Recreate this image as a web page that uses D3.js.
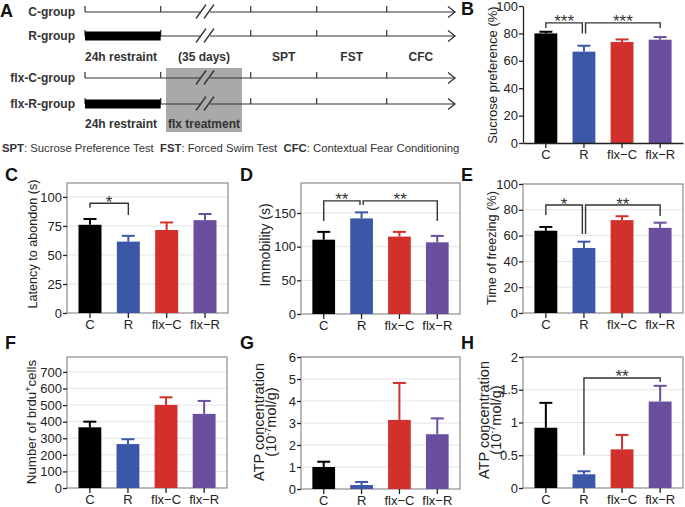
<!DOCTYPE html>
<html><head><meta charset="utf-8">
<script src="https://cdn.jsdelivr.net/npm/d3@7"></script>
<style>body{margin:0;background:#fff} svg{display:block} text{font-family:Arial,"Liberation Sans",sans-serif}</style>
</head><body><svg id="c" width="685" height="507"></svg>
<script>
// ---------- data ----------
const groups = ["C", "R", "flx−C", "flx−R"];
const sucrose = [80, 66.7, 73.7, 75.4];
const sucroseErr = [1.2, 4.3, 1.9, 1.9];
const latency = [76, 61.5, 71.5, 80];
const latencyErr = [5, 5, 6.5, 5.3];
const immobility = [110.4, 142, 115, 106.5];
const immobilityErr = [11.6, 9, 7, 9.5];
const freezing = [63.8, 50.4, 72, 66];
const freezingErr = [2.9, 4.9, 3, 4];
const brdu = [366, 265, 501, 447];
const brduErr = [34, 29, 46, 78];
const atpG = [1.0, 0.18, 3.14, 2.49];
const atpGErr = [0.24, 0.14, 1.68, 0.72];
const atpH = [0.92, 0.21, 0.59, 1.32];
const atpHErr = [0.38, 0.045, 0.22, 0.24];

const ticksB = [0, 20, 40, 60, 80, 100];
const ticksC = [0, 25, 50, 75, 100];
const ticksD = [0, 50, 100, 150];
const ticksE = [0, 20, 40, 60, 80, 100];
const ticksF = [0, 100, 200, 300, 400, 500, 600, 700];
const ticksG = [0, 1, 2, 3, 4, 5, 6];
const ticksH = [0, 0.5, 1, 1.5, 2];

// significance brackets: [fromIdx, toIdx, level, leftEnd, rightEnd, label]
const sigB = [[0, 1, 87.7, 84, 80, "***"], [1, 3, 87.7, 80, 84, "***"]];
const sigC = [[0, 1, 94.5, 90.7, 84.5, "*"]];
const sigD = [[0, 1, 168, 138, 162, "**"], [1, 3, 168, 162, 138, "**"]];
const sigE = [[0, 1, 83.7, 76, 61.2, "*"], [1, 3, 83.7, 61.2, 75.2, "**"]];
const sigH = [[1, 3, 1.68, 0.5, 1.62, "**"]];

// timeline schematic
const rowsA = ["C-group", "R-group", "flx-C-group", "flx-R-group"];
const stagesA = ["24h restraint", "(35 days)", "SPT", "FST", "CFC"];

// ---------- drawing ----------
const svg = d3.select("#c");
const colors = ["#000000", "#3b57a5", "#d3302d", "#6a4f9e"];
const ink = "#333";

function panel(o) {
  const g = svg.append("g");
  const x = d3.scaleBand().domain(groups).range([o.x0, o.x1]).paddingInner(0.4).paddingOuter(0.3);
  const y = d3.scaleLinear().domain([0, o.max]).range([o.yb, o.yt]);
  if (o.framed) {
    g.selectAll(".grid").data(o.ticks.filter(t => t > 0)).join("line")
      .attr("x1", o.x0).attr("x2", o.x1)
      .attr("y1", d => y(d)).attr("y2", d => y(d))
      .attr("stroke", "#e4e4e4").attr("stroke-width", 1);
    g.append("rect").attr("x", o.x0).attr("y", o.yt).attr("width", o.x1 - o.x0).attr("height", o.yb - o.yt)
      .attr("fill", "none").attr("stroke", "#8e8e8e").attr("stroke-width", 1.2);
  }
  g.selectAll(".bar").data(o.values).join("rect")
    .attr("x", (d, i) => x(groups[i])).attr("width", x.bandwidth())
    .attr("y", d => y(d)).attr("height", d => y(0) - y(d))
    .attr("fill", (d, i) => colors[i]);
  const cx = i => x(groups[i]) + x.bandwidth() / 2;
  g.selectAll(".eb").data(o.values).join("line")
    .attr("x1", (d, i) => cx(i)).attr("x2", (d, i) => cx(i))
    .attr("y1", d => y(d)).attr("y2", (d, i) => y(d + o.errs[i]))
    .attr("stroke", (d, i) => colors[i]).attr("stroke-width", 2);
  g.selectAll(".cap").data(o.values).join("line")
    .attr("x1", (d, i) => cx(i) - 6.5).attr("x2", (d, i) => cx(i) + 6.5)
    .attr("y1", (d, i) => y(d + o.errs[i])).attr("y2", (d, i) => y(d + o.errs[i]))
    .attr("stroke", (d, i) => colors[i]).attr("stroke-width", 2);
  const ya = g.append("g").attr("transform", `translate(${o.x0},0)`)
    .call(d3.axisLeft(y).tickValues(o.ticks).tickSize(4).tickSizeOuter(0).tickPadding(1).tickFormat(d3.format("")));
  const xa = g.append("g").attr("transform", `translate(0,${o.yb})`)
    .call(d3.axisBottom(x).tickSize(5).tickSizeOuter(0).tickPadding(2));
  [ya, xa].forEach(a => {
    a.selectAll("text").attr("font-size", 13).attr("fill", "#222").attr("font-family", "Arial, 'Liberation Sans', sans-serif");
    a.selectAll(".tick line").attr("stroke", "#222").attr("stroke-width", 1.3);
    if (o.framed) a.select(".domain").remove();
    else a.select(".domain").attr("stroke", "#222").attr("stroke-width", 1.3);
  });
  (o.sig || []).forEach((s, k) => {
    const [a, b, lvl, le, re, lab] = s;
    const shared = idx => (o.sig || []).some((t, j) => j !== k && (t[0] === idx || t[1] === idx));
    const xl = cx(a) + (shared(a) ? 1.6 : 0);
    const xr = cx(b) - (shared(b) ? 1.6 : 0);
    g.append("path").attr("d", `M${xl},${y(le)}V${y(lvl)}H${xr}V${y(re)}`)
      .attr("fill", "none").attr("stroke", ink).attr("stroke-width", 1.4);
    g.append("text").attr("x", (xl + xr) / 2).attr("y", y(lvl) + 4.5).attr("text-anchor", "middle")
      .attr("font-size", 17).attr("fill", "#333").text(lab);
  });
  const t = g.append("text").attr("transform", `translate(${o.tx},${o.ty}) rotate(-90)`)
    .attr("text-anchor", "middle").attr("font-size", o.fs || 13).attr("fill", "#222");
  o.title(t);
  svg.append("text").attr("x", o.lx).attr("y", o.ly).attr("font-size", 18).attr("font-weight", "bold").attr("fill", "#111").text(o.letter);
}

panel({x0: 523, x1: 683, yt: 6, yb: 143, max: 100, ticks: ticksB, values: sucrose, errs: sucroseErr, framed: false,
  sig: sigB, tx: 497, ty: 75, fs: 13, title: t => t.text("Sucrose preference (%)"), letter: "B", lx: 461, ly: 15});
panel({x0: 67, x1: 228, yt: 183, yb: 313, max: 112, ticks: ticksC, values: latency, errs: latencyErr, framed: true,
  sig: sigC, tx: 36.5, ty: 244, fs: 12.6, title: t => t.text("Latency to abondon (s)"), letter: "C", lx: 5, ly: 181});
panel({x0: 301, x1: 460, yt: 183, yb: 314, max: 194.6, ticks: ticksD, values: immobility, errs: immobilityErr, framed: true,
  sig: sigD, tx: 269.5, ty: 245, fs: 14, title: t => t.text("Immobility (s)"), letter: "D", lx: 240, ly: 181});
panel({x0: 523, x1: 683, yt: 184, yb: 313, max: 100, ticks: ticksE, values: freezing, errs: freezingErr, framed: true,
  sig: sigE, tx: 496, ty: 248, fs: 12.7, title: t => t.text("Time of freezing (%)"), letter: "E", lx: 461, ly: 181});
panel({x0: 67, x1: 227, yt: 357, yb: 488, max: 790, ticks: ticksF, values: brdu, errs: brduErr, framed: true,
  tx: 36, ty: 422, fs: 13.3, title: t => { t.append("tspan").text("Number of brdu");
    t.append("tspan").attr("font-size", 9).attr("dy", -5).text("+");
    t.append("tspan").attr("dy", 5).text("cells"); }, letter: "F", lx: 5, ly: 349});
const atpTitle = (d1, d2) => t => {
  t.append("tspan").attr("x", 0).attr("dy", d1).text("ATP concentration");
  t.append("tspan").attr("x", 0).attr("dy", d2).text("(10");
  t.append("tspan").attr("font-size", 9).attr("dy", -5.5).text("-7");
  t.append("tspan").attr("dy", 5.5).text("mol/g)");
};
panel({x0: 301, x1: 460, yt: 357, yb: 489, max: 6, ticks: ticksG, values: atpG, errs: atpGErr, framed: true,
  tx: 270, ty: 422, fs: 14.5, title: atpTitle(-6.5, 12.5), letter: "G", lx: 240, ly: 349});
panel({x0: 523, x1: 683, yt: 357, yb: 488, max: 2, ticks: ticksH, values: atpH, errs: atpHErr, framed: true,
  sig: sigH, tx: 494.5, ty: 420, fs: 14.5, title: atpTitle(-6, 12), letter: "H", lx: 461, ly: 349});

// ---------- panel A: timeline ----------
const A = svg.append("g");
const rowY = [12, 36, 78, 104];
const xs = [85, 160.7, 250.7, 316.7, 386.7, 455];
A.append("rect").attr("x", 166).attr("y", 68).attr("width", 76).attr("height", 64).attr("fill", "#a9a9a9");
rowsA.forEach((name, i) => {
  const yy = rowY[i];
  A.append("text").attr("x", 75).attr("y", yy + 4).attr("text-anchor", "end").attr("font-size", 12)
    .attr("font-weight", "bold").attr("fill", ink).text(name);
  A.append("line").attr("x1", xs[0]).attr("x2", 201).attr("y1", yy).attr("y2", yy).attr("stroke", ink).attr("stroke-width", 1.2);
  A.append("line").attr("x1", 210).attr("x2", xs[5]).attr("y1", yy).attr("y2", yy).attr("stroke", ink).attr("stroke-width", 1.2);
  A.append("path").attr("d", `M${xs[5] - 7},${yy - 5.5}L${xs[5]},${yy}L${xs[5] - 7},${yy + 5.5}`)
    .attr("fill", "none").attr("stroke", ink).attr("stroke-width", 1.3);
  xs.slice(0, 5).forEach(tx => A.append("line").attr("x1", tx).attr("x2", tx)
    .attr("y1", yy - 6).attr("y2", yy).attr("stroke", ink).attr("stroke-width", 1.2));
  [196, 204].forEach(sx => A.append("line").attr("x1", sx).attr("y1", yy + 6.5).attr("x2", sx + 10).attr("y2", yy - 7.5)
    .attr("stroke", ink).attr("stroke-width", 1.3));
  if (i % 2 === 1) A.append("rect").attr("x", xs[0]).attr("y", yy - 4.5).attr("width", xs[1] - xs[0]).attr("height", 9).attr("fill", "#000");
});
const stageLabel = (txt, cxp, yy) => A.append("text").attr("x", cxp).attr("y", yy).attr("text-anchor", "middle")
  .attr("font-size", 12).attr("font-weight", "bold").attr("fill", ink).text(txt);
stagesA.forEach((s, i) => stageLabel(s, i === 0 ? 121 : i === 1 ? 204 : (xs[i] + xs[i + 1]) / 2, 61));
stageLabel("24h restraint", 121, 128);
stageLabel("flx treatment", 204, 128);
A.append("text").attr("x", 0).attr("y", 17).attr("font-size", 18).attr("font-weight", "bold").attr("fill", "#111").text("A");
const leg = A.append("text").attr("x", 2).attr("y", 152).attr("font-size", 11.3).attr("fill", ink).attr("xml:space", "preserve");
[["SPT", true], [": Sucrose Preference Test  ", false], ["FST", true], [": Forced Swim Test  ", false],
 ["CFC", true], [": Contextual Fear Conditioning", false]].forEach(([t, b]) =>
  leg.append("tspan").attr("font-weight", b ? "bold" : "normal").text(t));
</script></body></html>
